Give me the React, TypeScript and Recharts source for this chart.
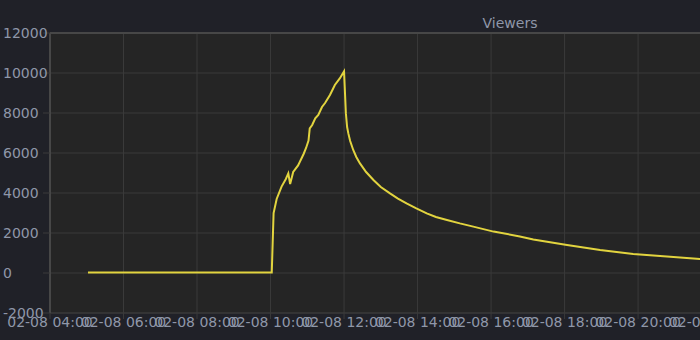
import { LineChart, Line, XAxis, YAxis, CartesianGrid, ReferenceLine } from "recharts";

// viewers over the day of 02-08
const dateLabel = "02-08";
const times = [
  "05:02", "10:02", "10:05", "10:10", "10:18", "10:25", "10:29", "10:32", "10:37", "10:45",
  "10:54", "10:58", "11:02", "11:04", "11:08", "11:13", "11:18", "11:24", "11:29", "11:37",
  "11:45", "11:53", "12:00", "12:03", "12:05", "12:07", "12:10", "12:15", "12:20", "12:26",
  "12:36", "12:48", "13:00", "13:15", "13:28", "13:42", "13:58", "14:15", "14:30", "14:48",
  "15:09", "15:31", "16:04", "16:47", "17:09", "18:04", "18:58", "19:52", "20:47", "21:41",
  "21:49",
];
const viewers = [
  30, 30, 3000, 3700, 4320, 4700, 4980, 4450, 5050, 5380,
  5950, 6250, 6620, 7230, 7400, 7730, 7900, 8300, 8500, 8900,
  9400, 9730, 10080, 7980, 7300, 6980, 6600, 6150, 5800, 5480,
  5050, 4650, 4300, 3980, 3720, 3480, 3230, 2980, 2800, 2650,
  2480, 2320, 2070, 1830, 1680, 1400, 1150, 950, 820, 700,
  690,
];
const xTicks = ["04:00", "06:00", "08:00", "10:00", "12:00", "14:00", "16:00", "18:00", "20:00", "22:00"];
const yTicks = [-2000, 0, 2000, 4000, 6000, 8000, 10000, 12000];

const toMinutes = (t: string) => {
  const [h, m] = t.split(":").map(Number);
  return h * 60 + m;
};

const data = times.map((t, i) => ({ t: toMinutes(t), viewers: viewers[i] }));

const textColor = "#8f97a9";
const gridColor = "#3a3a3a";
const font = "DejaVu Sans";

function XTick(props: any) {
  const { x, y, payload } = props;
  const h = Math.floor(payload.value / 60);
  const label = `${dateLabel} ${String(h).padStart(2, "0")}:00`;
  return (
    <text x={x} y={y} dy={8} textAnchor="middle" fill={textColor} fontSize={14} fontFamily={font}>
      {label}
    </text>
  );
}

function YTick(props: any) {
  const { y, payload } = props;
  return (
    <text x={3} y={y} dy={5} textAnchor="start" fill={textColor} fontSize={14} fontFamily={font}>
      {payload.value}
    </text>
  );
}

export default function App() {
  return (
    <div
      style={{
        position: "absolute",
        left: 0,
        top: 0,
        width: 700,
        height: 340,
        overflow: "hidden",
        background: "#202128",
      }}
    >
      <svg width={700} height={40} style={{ position: "absolute", left: 0, top: 0 }}>
        <text x={510} y={28} textAnchor="middle" fill={textColor} fontSize={14} fontFamily={font}>
          Viewers
        </text>
      </svg>
      <LineChart
        width={760}
        height={340}
        data={data}
        margin={{ top: 33, right: 0, bottom: 0, left: 0 }}
        style={{ position: "absolute", left: 0, top: 0 }}
      >
        <CartesianGrid stroke={gridColor} fill="#252525" />
        <XAxis
          type="number"
          dataKey="t"
          domain={[240, 1399]}
          ticks={xTicks.map(toMinutes)}
          interval={0}
          allowDataOverflow
          height={27}
          tickSize={6}
          tickMargin={0}
          tickLine={{ stroke: gridColor }}
          axisLine={{ stroke: gridColor }}
          tick={<XTick />}
        />
        <YAxis
          domain={[-2000, 12000]}
          ticks={yTicks}
          interval={0}
          allowDataOverflow
          width={50}
          tickSize={7}
          tickLine={{ stroke: gridColor }}
          axisLine={{ stroke: "#474747", strokeWidth: 2 }}
          tick={<YTick />}
        />
        <ReferenceLine y={12000} stroke="#474747" strokeWidth={2} />
        <Line
          type="linear"
          dataKey="viewers"
          stroke="#e2d43f"
          strokeWidth={2}
          dot={false}
          isAnimationActive={false}
        />
      </LineChart>
    </div>
  );
}
